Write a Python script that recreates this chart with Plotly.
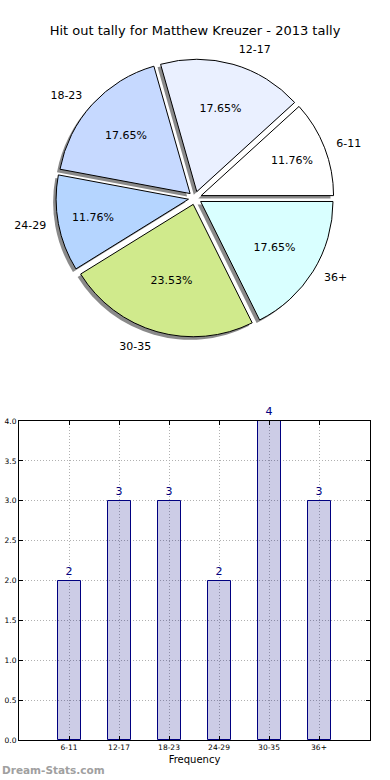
import plotly.graph_objects as go

categories = ["6-11", "12-17", "18-23", "24-29", "30-35", "36+"]
counts = [2, 3, 3, 2, 4, 3]
pie_colors = ["#ffffff", "#eaf0ff", "#c6d9ff", "#b5d5ff", "#d0ea8c", "#d9ffff"]
y_ticks = [0.0, 0.5, 1.0, 1.5, 2.0, 2.5, 3.0, 3.5, 4.0]

W, H = 390, 780
FONT = "DejaVu Sans"
PULL = 0.05

# plotly measures rotation to the end of the first slice for counterclockwise pies
first_share = counts[0] / sum(counts) * 360
ROT = 90 - first_share

def px_dom(x0, x1, y0, y1):
    return dict(x=[x0 / W, x1 / W], y=[1 - y1 / H, 1 - y0 / H])

cx, cy, half = 195, 198, 139
label_half = 148
sh = 3  # shadow offset in px

fig = go.Figure()

# shadow pie
fig.add_trace(go.Pie(
    labels=categories, values=counts, sort=False, direction="counterclockwise",
    rotation=ROT, pull=[PULL] * len(counts),
    marker=dict(colors=["#8a8a8a"] * len(counts), line=dict(width=0)),
    textinfo="none", hoverinfo="skip", showlegend=False,
    domain=px_dom(cx - half - sh, cx + half - sh, cy - half + sh, cy + half + sh),
))

# main pie with percentages inside
fig.add_trace(go.Pie(
    labels=categories, values=counts, sort=False, direction="counterclockwise",
    rotation=ROT, pull=[PULL] * len(counts),
    marker=dict(colors=pie_colors, line=dict(color="black", width=1)),
    texttemplate="%{percent:.2%}", textposition="inside",
    insidetextorientation="horizontal",
    textfont=dict(family=FONT, size=11, color="black"),
    showlegend=False,
    domain=px_dom(cx - half, cx + half, cy - half, cy + half),
))

# transparent pie for outside labels
fig.add_trace(go.Pie(
    labels=categories, values=counts, sort=False, direction="counterclockwise",
    rotation=ROT, pull=[PULL] * len(counts),
    marker=dict(colors=["rgba(0,0,0,0)"] * len(counts), line=dict(width=0)),
    textinfo="label", textposition="outside",
    outsidetextfont=dict(family=FONT, size=11, color="black"),
    hoverinfo="skip", showlegend=False,
    domain=px_dom(cx - label_half, cx + label_half, cy - label_half, cy + label_half),
))

# bar chart
fig.add_trace(go.Bar(
    x=categories, y=counts, width=0.46,
    marker=dict(color="rgba(0,0,128,0.2)", line=dict(color="navy", width=1)),
    text=[str(c) for c in counts], textposition="outside",
    textfont=dict(family=FONT, size=11, color="navy"),
    cliponaxis=False, showlegend=False,
    xaxis="x", yaxis="y",
))

axis_common = dict(
    showline=True, linecolor="black", linewidth=1, mirror="ticks",
    ticks="inside", ticklen=4, tickcolor="black",
    showgrid=True, gridcolor="#b0b0b0", griddash="1px,2px", gridwidth=1,
    zeroline=False, automargin=False,
    tickfont=dict(family=FONT, size=7.5, color="black"),
)

fig.update_layout(
    width=W, height=H,
    margin=dict(l=0, r=0, t=0, b=0, autoexpand=False),
    paper_bgcolor="white", plot_bgcolor="white",
    font=dict(family=FONT, color="black"),
    title=dict(text="Hit out tally for Matthew Kreuzer - 2013 tally",
               x=0.5, xanchor="center", y=1 - 30 / H, yanchor="middle",
               font=dict(family=FONT, size=13, color="black")),
    xaxis=dict(domain=[19 / W, 370 / W], anchor="y", range=[-1, 6.02],
               title=dict(text="Frequency", font=dict(family=FONT, size=10), standoff=4),
               **axis_common),
    yaxis=dict(domain=[1 - 740 / H, 1 - 421 / H], anchor="x", range=[0, 4],
               tickvals=y_ticks, tickformat=".1f", **axis_common),
    bargap=0,
    annotations=[dict(text="<b>Dream-Stats.com</b>", xref="paper", yref="paper",
                      x=0, y=1 - 770 / H, xanchor="left", yanchor="middle",
                      showarrow=False,
                      font=dict(family=FONT, size=10.5, color="#a0a0a0"))],
)

fig.write_html("out.html", config={"displayModeBar": False},
               post_script="document.body.style.margin='0';document.body.style.overflow='hidden';")
